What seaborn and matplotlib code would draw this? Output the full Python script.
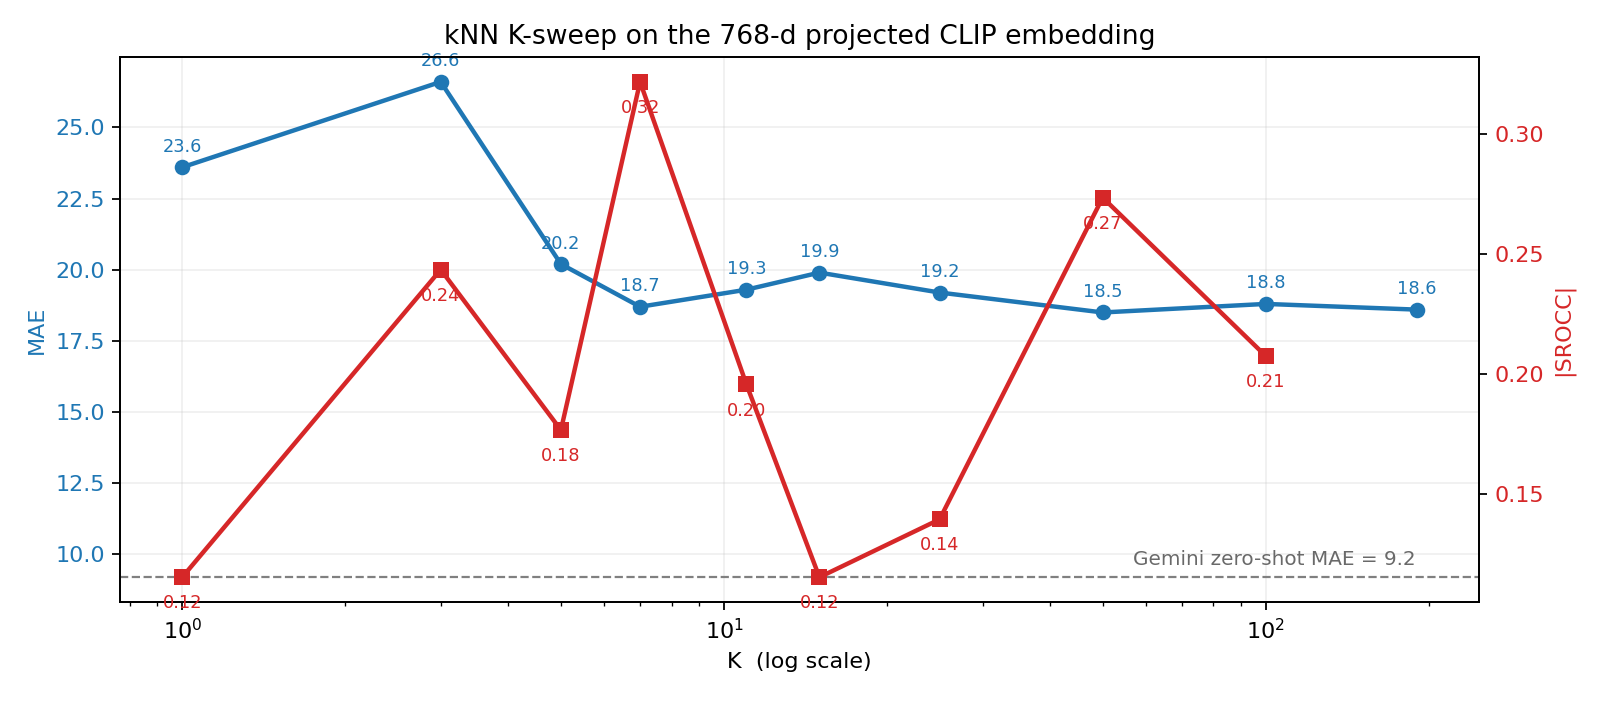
import numpy as np
import pandas as pd
import matplotlib
matplotlib.use('Agg')
import matplotlib.pyplot as plt
import seaborn as sns

# valori
k_values = [1, 3, 5, 7, 11, 15, 25, 50, 100, 190]
mae = [23.6, 26.6, 20.2, 18.7, 19.3, 19.9, 19.2, 18.5, 18.8, 18.6]
k_srocc = [1, 3, 5, 7, 11, 15, 25, 50, 100]
srocc = [0.1153, 0.2434, 0.1766, 0.3216, 0.1956, 0.1153, 0.1394, 0.2734, 0.2074]
gemini_mae = 9.2

blue = '#1f77b4'
red = '#d62728'

df_mae = pd.DataFrame({'K': k_values, 'MAE': mae})
df_sr = pd.DataFrame({'K': k_srocc, 'SROCC': srocc})

sns.set_style('ticks', rc={'text.color': 'black', 'axes.labelcolor': 'black',
                           'xtick.color': 'black', 'ytick.color': 'black',
                           'axes.edgecolor': 'black'})
plt.rcParams['font.family'] = ['DejaVu Sans']

fig, ax = plt.subplots(figsize=(10, 4.4), dpi=160)

sns.lineplot(data=df_mae, x='K', y='MAE', ax=ax, color=blue, marker='o',
             markersize=7, linewidth=2, markeredgewidth=0)
ax.axhline(gemini_mae, color='gray', linestyle='--', linewidth=1)
ax.set_xscale('log')
ax.set_xlabel('K  (log scale)')
ax.set_ylabel('MAE', color=blue)
ax.tick_params(axis='y', labelcolor=blue)
ax.grid(True, alpha=0.3)

for k, v in zip(k_values, mae):
    ax.annotate(f'{v:.1f}', (k, v), textcoords='offset points', xytext=(0, 7),
                ha='center', fontsize=8, color=blue)

ax.text(0.954, gemini_mae + 0.3, f'Gemini zero-shot MAE = {gemini_mae}',
        transform=ax.get_yaxis_transform(), ha='right', va='bottom',
        fontsize=9, color='dimgray')

ax2 = ax.twinx()
sns.lineplot(data=df_sr, x='K', y='SROCC', ax=ax2, color=red, marker='s',
             markersize=7, linewidth=2, markeredgewidth=0)
ax2.set_ylabel('|SROCC|', color=red)
ax2.tick_params(axis='y', labelcolor=red)
for k, v in zip(k_srocc, srocc):
    ax2.annotate(f'{v:.2f}', (k, v), textcoords='offset points', xytext=(0, -14),
                 ha='center', fontsize=8, color=red)

ax.set_title('kNN K-sweep on the 768-d projected CLIP embedding')
fig.subplots_adjust(left=0.0753, right=0.9241, top=0.9189, bottom=0.1449)
fig.savefig('out.png', dpi=160)
